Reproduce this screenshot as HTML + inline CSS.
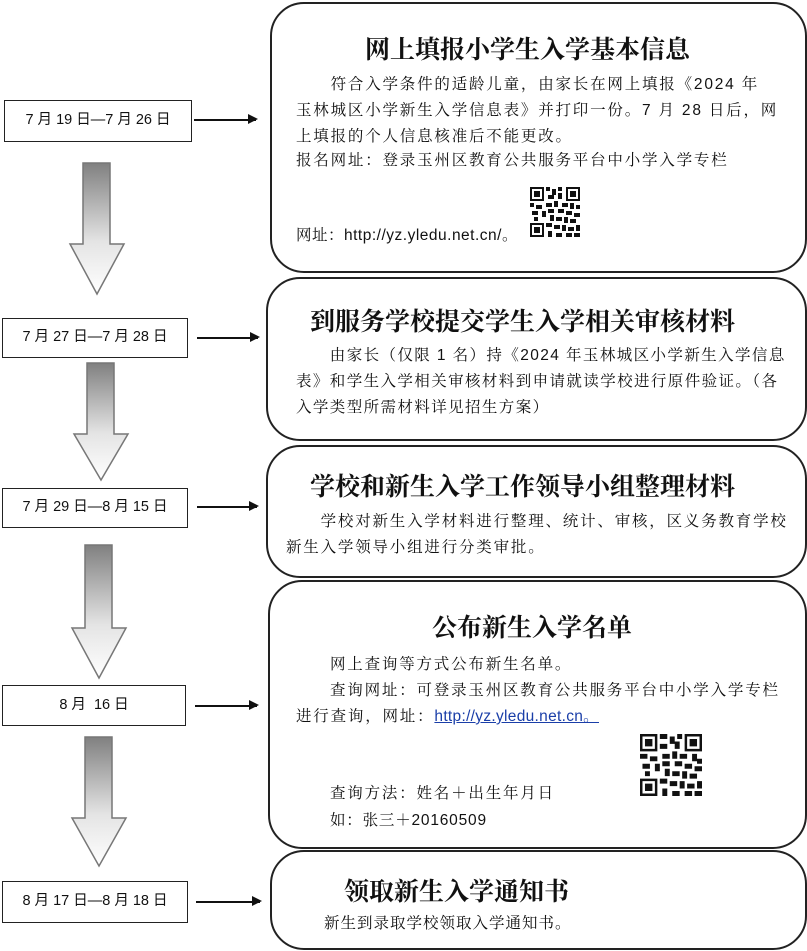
<!DOCTYPE html>
<html><head><meta charset="utf-8"><style>
body{margin:0;width:807px;height:951px;background:#fff;position:relative;overflow:hidden;font-family:"Liberation Serif","Noto Serif CJK SC",serif;color:#111}
.rb{position:absolute;border:2px solid #222;border-radius:34px;box-sizing:border-box;background:#fff}
.db{position:absolute;border:1.5px solid #222;box-sizing:border-box;font-size:14.5px;text-align:center;background:#fff;font-family:"Liberation Sans","Noto Sans CJK SC",sans-serif}
.t{position:absolute;font-size:25px;font-weight:bold;white-space:nowrap}
.p{position:absolute;font-size:15.5px;line-height:26px;white-space:nowrap;letter-spacing:1.8px;font-family:"Liberation Sans","Noto Serif CJK SC",serif}
.ar{position:absolute;height:1.5px;background:#111}
.ar:after{content:"";position:absolute;right:-2px;top:-5px;border-left:10px solid #111;border-top:5.5px solid transparent;border-bottom:5.5px solid transparent}
svg.ba{position:absolute}
</style></head><body>
<div class="rb" style="left:270px;top:2px;width:537px;height:271px"></div>
<div class="rb" style="left:266px;top:277px;width:541px;height:164px"></div>
<div class="rb" style="left:266px;top:445px;width:541px;height:133px"></div>
<div class="rb" style="left:268px;top:580px;width:539px;height:269px"></div>
<div class="rb" style="left:270px;top:850px;width:537px;height:100px"></div>

<div class="t" style="left:365px;top:30px">网上填报小学生入学基本信息</div>
<div class="p" style="left:296px;top:72px">　　符合入学条件的适龄儿童，由家长在网上填报《2024 年<br>玉林城区小学新生入学信息表》并打印一份。7 月 28 日后，网<br>上填报的个人信息核准后不能更改。</div>
<div class="p" style="left:296px;top:148px">报名网址：登录玉州区教育公共服务平台中小学入学专栏</div>
<div class="p" style="left:296px;top:223px;letter-spacing:0.5px">网址：http://yz.yledu.net.cn/。</div>

<div class="t" style="left:310px;top:302px">到服务学校提交学生入学相关审核材料</div>
<div class="p" style="left:296px;top:343px;letter-spacing:1.4px">　　由家长（仅限 1 名）持《2024 年玉林城区小学新生入学信息<br>表》和学生入学相关审核材料到申请就读学校进行原件验证。（各<br>入学类型所需材料详见招生方案）</div>

<div class="t" style="left:310px;top:467px">学校和新生入学工作领导小组整理材料</div>
<div class="p" style="left:286px;top:509px">　　学校对新生入学材料进行整理、统计、审核，区义务教育学校<br>新生入学领导小组进行分类审批。</div>

<div class="t" style="left:432px;top:608px">公布新生入学名单</div>
<div class="p" style="left:330px;top:652px">网上查询等方式公布新生名单。</div>
<div class="p" style="left:330px;top:678px">查询网址：可登录玉州区教育公共服务平台中小学入学专栏</div>
<div class="p" style="left:296px;top:704px">进行查询，网址：<span style="color:#1a3ea8;text-decoration:underline;letter-spacing:0.3px">http://yz.yledu.net.cn。 </span></div>
<div class="p" style="left:330px;top:781px">查询方法：姓名＋出生年月日</div>
<div class="p" style="left:330px;top:808px;letter-spacing:0.8px">如：张三＋20160509</div>

<div class="t" style="left:344px;top:872px">领取新生入学通知书</div>
<div class="p" style="left:324px;top:911px;letter-spacing:1px">新生到录取学校领取入学通知书。</div>

<svg style="position:absolute;left:529px;top:187px" width="52" height="50" viewBox="0 0 25 25">
<g fill="#111"><path d="M0 0h7v7H0zM18 0h7v7h-7zM0 18h7v7H0z"/></g>
<g fill="#fff"><path d="M1 1h5v5H1zM19 1h5v5h-5zM1 19h5v5H1z"/></g>
<g fill="#111"><path d="M2 2h3v3H2zM20 2h3v3h-3zM2 20h3v3H2z"/>
<path d="M8 0h2v2H8zM11 1h2v3h-2zM14 0h2v2h-2zM9 4h3v2H9zM14 3h2v3h-2zM8 8h3v2H8zM12 7h2v3h-2zM0 8h2v2H0zM3 9h3v2H3zM16 8h3v2h-3zM20 8h2v3h-2zM23 9h2v2h-2zM1 12h3v2H1zM6 12h2v3H6zM9 11h3v2H9zM14 11h3v2h-3zM18 12h3v2h-3zM22 13h3v2h-3zM2 15h2v2H2zM10 14h2v3h-2zM13 15h3v2h-3zM17 15h2v3h-2zM20 16h3v2h-3zM8 18h3v2H8zM12 19h3v2h-3zM16 19h2v3h-2zM19 20h3v2h-3zM23 19h2v3h-2zM9 22h2v3H9zM13 23h3v2h-3zM18 23h3v2h-3zM22 23h3v2h-3z"/></g>
</svg>
<svg style="position:absolute;left:640px;top:734px" width="62" height="62" viewBox="0 0 25 25">
<g fill="#111"><path d="M0 0h7v7H0zM18 0h7v7h-7zM0 18h7v7H0z"/></g>
<g fill="#fff"><path d="M1 1h5v5H1zM19 1h5v5h-5zM1 19h5v5H1z"/></g>
<g fill="#111"><path d="M2 2h3v3H2zM20 2h3v3h-3zM2 20h3v3H2z"/>
<path d="M8 0h3v2H8zM12 1h2v3h-2zM15 0h2v2h-2zM8 4h3v2H8zM14 3h2v3h-2zM9 8h3v2H9zM13 7h2v3h-2zM0 8h3v2H0zM4 9h3v2H4zM16 8h3v2h-3zM21 8h2v3h-2zM23 10h2v2h-2zM1 12h3v2H1zM6 12h2v3H6zM9 11h3v2H9zM14 11h3v2h-3zM18 12h3v2h-3zM22 13h3v2h-3zM2 15h2v2H2zM10 14h2v3h-2zM13 15h3v2h-3zM17 15h2v3h-2zM20 16h3v2h-3zM8 18h3v2H8zM12 19h3v2h-3zM16 19h2v3h-2zM19 20h3v2h-3zM23 19h2v3h-2zM9 22h2v3H9zM13 23h3v2h-3zM18 23h3v2h-3zM22 23h3v2h-3z"/></g>
</svg>

<div class="db" style="left:4px;top:100px;width:188px;height:42px;line-height:39px">7 月 19 日—7 月 26 日</div>
<div class="db" style="left:2px;top:318px;width:186px;height:40px;line-height:37px">7 月 27 日—7 月 28 日</div>
<div class="db" style="left:2px;top:488px;width:186px;height:40px;line-height:37px">7 月 29 日—8 月 15 日</div>
<div class="db" style="left:2px;top:685px;width:184px;height:41px;line-height:38px">8 月&nbsp; 16 日</div>
<div class="db" style="left:2px;top:881px;width:186px;height:42px;line-height:39px">8 月 17 日—8 月 18 日</div>

<div class="ar" style="left:194px;top:119px;width:62px"></div>
<div class="ar" style="left:197px;top:337px;width:61px"></div>
<div class="ar" style="left:197px;top:506px;width:60px"></div>
<div class="ar" style="left:195px;top:705px;width:62px"></div>
<div class="ar" style="left:196px;top:901px;width:64px"></div>

<svg width="0" height="0" style="position:absolute"><defs><linearGradient id="g" x1="0" y1="0" x2="0" y2="1"><stop offset="0" stop-color="#808080"/><stop offset="0.6" stop-color="#e4e4e4"/><stop offset="1" stop-color="#fff"/></linearGradient></defs></svg>
<svg class="ba" style="left:66px;top:162px" width="62" height="136"><path d="M17 1H44V82H58L31 132L4 82H17Z" fill="url(#g)" stroke="#777" stroke-width="1.5"/></svg>
<svg class="ba" style="left:70px;top:362px" width="62" height="122"><path d="M17 1H44V72H58L31 118L4 72H17Z" fill="url(#g)" stroke="#777" stroke-width="1.5"/></svg>
<svg class="ba" style="left:68px;top:544px" width="62" height="138"><path d="M17 1H44V84H58L31 134L4 84H17Z" fill="url(#g)" stroke="#777" stroke-width="1.5"/></svg>
<svg class="ba" style="left:68px;top:736px" width="62" height="134"><path d="M17 1H44V82H58L31 130L4 82H17Z" fill="url(#g)" stroke="#777" stroke-width="1.5"/></svg>
</body></html>
